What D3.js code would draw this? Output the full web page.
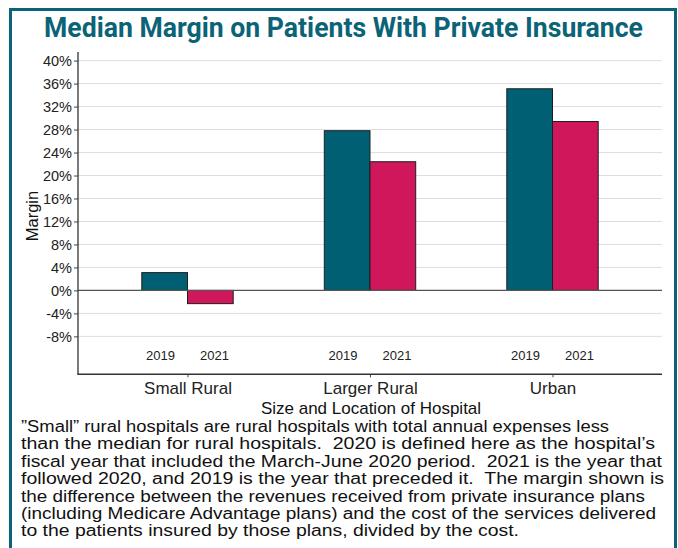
<!DOCTYPE html>
<html>
<head>
<meta charset="utf-8">
<script src="https://cdn.jsdelivr.net/npm/d3@7/dist/d3.min.js"></script>
<style>
  html, body { margin: 0; padding: 0; background: #ffffff; }
  svg { display: block; }
</style>
</head>
<body>
<svg id="chart" width="678" height="548"></svg>
<script>
// Hospital groups and reporting years
const categories = ["Small Rural", "Larger Rural", "Urban"];
const years = ["2019", "2021"];
// Median margin (%) on privately insured patients
const values2019 = [3.1, 27.8, 35.1];
const values2021 = [-2.3, 22.4, 29.4];
// Y axis tick values (%)
const yTicks = [-8, -4, 0, 4, 8, 12, 16, 20, 24, 28, 32, 36, 40];

const titleText = "Median Margin on Patients With Private Insurance";
const yTitle = "Margin";
const xTitle = "Size and Location of Hospital";
const noteLines = [
  "\u201DSmall\u201D rural hospitals are rural hospitals with total annual expenses less",
  "than the median for rural hospitals.  2020 is defined here as the hospital\u2019s",
  "fiscal year that included the March-June 2020 period.  2021 is the year that",
  "followed 2020, and 2019 is the year that preceded it.  The margin shown is",
  "the difference between the revenues received from private insurance plans",
  "(including Medicare Advantage plans) and the cost of the services delivered",
  "to the patients insured by those plans, divided by the cost."
];
// set width of each footnote line (px)
const noteWidths = [588, 634, 641, 643, 624, 635, 498];

const colors = { "2019": "#005f73", "2021": "#d0175c" };
const frameColor = "#0b6377";

const svg = d3.select("#chart");
const W = 678, H = 548;

svg.append("rect").attr("width", W).attr("height", H).attr("fill", "#fff");

// outer frame
svg.append("rect")
  .attr("x", 10.5).attr("y", 9.5)
  .attr("width", 665).attr("height", 580)
  .attr("fill", "none")
  .attr("stroke", frameColor)
  .attr("stroke-width", 3);

// title
svg.append("text")
  .attr("x", 44).attr("y", 37)
  .attr("font-family", "'Liberation Sans Narrow', 'Roboto', 'Liberation Sans', sans-serif")
  .attr("font-weight", "bold")
  .attr("font-size", 28)
  .attr("fill", frameColor)
  .attr("textLength", 599)
  .attr("lengthAdjust", "spacingAndGlyphs")
  .text(titleText);

// plot area
const plot = { left: 78, right: 662, top: 52, bottom: 374.3 };

const y = d3.scaleLinear()
  .domain([-14.6, 41.5])
  .range([plot.bottom, plot.top]);

const x0 = d3.scalePoint()
  .domain(categories)
  .range([plot.left, plot.right])
  .padding(0.6);

const barW = 45.7;
const x1 = d3.scaleBand()
  .domain(years)
  .range([-barW, barW])
  .padding(0);

const labelOffset = d3.scaleOrdinal().domain(years).range([-27, 27]);

const font = "'Liberation Sans', Arial, sans-serif";

// gridlines
svg.append("g")
  .selectAll("line")
  .data(yTicks.filter(t => t !== 0))
  .join("line")
  .attr("x1", plot.left).attr("x2", plot.right)
  .attr("y1", d => y(d)).attr("y2", d => y(d))
  .attr("stroke", "#dedede")
  .attr("stroke-width", 1);

// bars
const rows = categories.map((c, i) => ({ c, v: { "2019": values2019[i], "2021": values2021[i] } }));
const groups = svg.append("g")
  .selectAll("g")
  .data(rows)
  .join("g")
  .attr("transform", d => `translate(${x0(d.c)},0)`);

groups.selectAll("rect")
  .data(d => years.map(yr => ({ yr, v: d.v[yr] })))
  .join("rect")
  .attr("x", d => x1(d.yr))
  .attr("width", x1.bandwidth())
  .attr("y", d => y(Math.max(0, d.v)))
  .attr("height", d => Math.abs(y(d.v) - y(0)))
  .attr("fill", d => colors[d.yr])
  .attr("stroke", "#1e1e1e")
  .attr("stroke-width", 1);

// year labels under each group
groups.selectAll("text")
  .data(years)
  .join("text")
  .attr("x", d => labelOffset(d))
  .attr("y", 359.5)
  .attr("text-anchor", "middle")
  .attr("font-family", font)
  .attr("font-size", 13)
  .attr("fill", "#222")
  .text(d => d);

// zero line
svg.append("line")
  .attr("x1", plot.left).attr("x2", plot.right)
  .attr("y1", y(0)).attr("y2", y(0))
  .attr("stroke", "#555")
  .attr("stroke-width", 1.2);

// y axis
const yAxis = svg.append("g")
  .attr("transform", `translate(${plot.left},0)`)
  .call(d3.axisLeft(y).tickValues(yTicks).tickSize(4).tickPadding(2).tickFormat(d => d + "%"));
yAxis.select(".domain").remove();
yAxis.selectAll(".tick line").attr("stroke", "#444");
yAxis.selectAll(".tick text")
  .attr("font-family", font)
  .attr("font-size", 14.5)
  .attr("fill", "#222");
svg.append("line")
  .attr("x1", plot.left).attr("x2", plot.left)
  .attr("y1", plot.top).attr("y2", plot.bottom)
  .attr("stroke", "#333").attr("stroke-width", 1.3);

// x axis
const xAxis = svg.append("g")
  .attr("transform", `translate(0,${plot.bottom})`)
  .call(d3.axisBottom(x0).tickSize(3).tickPadding(5));
xAxis.select(".domain").remove();
xAxis.selectAll(".tick line").attr("stroke", "#444");
xAxis.selectAll(".tick text")
  .attr("font-family", font)
  .attr("font-size", 17)
  .attr("fill", "#222");
svg.append("line")
  .attr("x1", plot.left - 0.6).attr("x2", plot.right)
  .attr("y1", plot.bottom).attr("y2", plot.bottom)
  .attr("stroke", "#333").attr("stroke-width", 1.6);

// axis titles
svg.append("text")
  .attr("transform", `translate(38,216) rotate(-90)`)
  .attr("text-anchor", "middle")
  .attr("font-family", font)
  .attr("font-size", 16.5)
  .attr("fill", "#111")
  .text(yTitle);

svg.append("text")
  .attr("x", (plot.left + plot.right) / 2 + 1)
  .attr("y", 414)
  .attr("text-anchor", "middle")
  .attr("font-family", font)
  .attr("font-size", 17)
  .attr("fill", "#111")
  .text(xTitle);

// footnote
const noteFont = "'Liberation Sans Narrow', 'Liberation Sans', Arial, sans-serif";
svg.append("g")
  .selectAll("text")
  .data(noteLines)
  .join("text")
  .attr("x", 21)
  .attr("y", (d, i) => 432 + i * 17.4)
  .attr("font-family", noteFont)
  .attr("font-size", 16)
  .attr("fill", "#111")
  .style("white-space", "pre")
  .attr("textLength", (d, i) => noteWidths[i])
  .attr("lengthAdjust", "spacingAndGlyphs")
  .text(d => d);
</script>
</body>
</html>
